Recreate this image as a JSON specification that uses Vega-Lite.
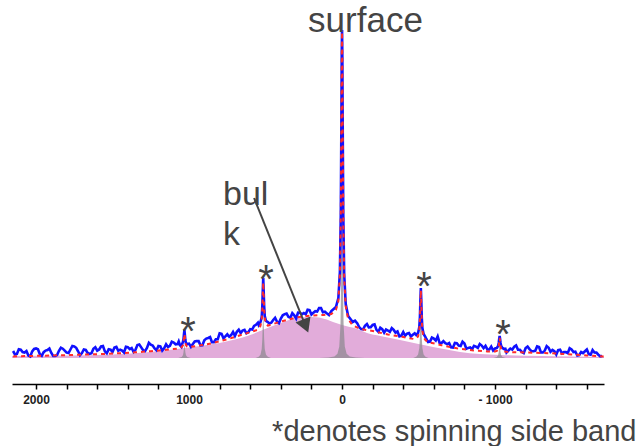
{
  "$schema": "https://vega.github.io/schema/vega-lite/v6.json",
  "width": 592,
  "height": 384,
  "autosize": {"type": "none"},
  "padding": {"left": 12, "right": 36, "top": 0, "bottom": 62},
  "background": "white",
  "config": {"view": {"stroke": null}},
  "datasets": {
    "bulk": [
      {"x": 2157, "y": 2}, {"x": 1800, "y": 2.5}, {"x": 1500, "y": 3.5}, {"x": 1255, "y": 6}, {"x": 1100, "y": 8.5},
      {"x": 928, "y": 12}, {"x": 800, "y": 15}, {"x": 700, "y": 18.5}, {"x": 600, "y": 23}, {"x": 471, "y": 31},
      {"x": 400, "y": 35}, {"x": 294, "y": 40}, {"x": 200, "y": 41}, {"x": 100, "y": 38.5}, {"x": 59, "y": 36},
      {"x": 0, "y": 33}, {"x": -100, "y": 29}, {"x": -163, "y": 25}, {"x": -250, "y": 22}, {"x": -379, "y": 18},
      {"x": -500, "y": 14}, {"x": -595, "y": 11}, {"x": -700, "y": 8}, {"x": -771, "y": 6}, {"x": -900, "y": 4},
      {"x": -1033, "y": 3}, {"x": -1300, "y": 2}, {"x": -1712, "y": 1}
    ],
    "peaks": [
      {"k": "c", "x": -150, "y": 0}, {"k": "c", "x": -90, "y": 0.5}, {"k": "c", "x": -50, "y": 1.6}, {"k": "c", "x": -30, "y": 4.3},
      {"k": "c", "x": -18, "y": 11.5}, {"k": "c", "x": -10, "y": 34}, {"k": "c", "x": -6, "y": 77}, {"k": "c", "x": -3, "y": 160},
      {"k": "c", "x": -1.5, "y": 220}, {"k": "c", "x": 0, "y": 250}, {"k": "c", "x": 1.5, "y": 220}, {"k": "c", "x": 3, "y": 160},
      {"k": "c", "x": 6, "y": 77}, {"k": "c", "x": 10, "y": 34}, {"k": "c", "x": 18, "y": 11.5}, {"k": "c", "x": 30, "y": 4.3},
      {"k": "c", "x": 50, "y": 1.6}, {"k": "c", "x": 90, "y": 0.5}, {"k": "c", "x": 150, "y": 0},
      {"k": "s1", "x": 465, "y": 0}, {"k": "s1", "x": 485, "y": 1.2}, {"k": "s1", "x": 497, "y": 3.3}, {"k": "s1", "x": 505, "y": 9},
      {"k": "s1", "x": 509, "y": 19}, {"k": "s1", "x": 512, "y": 34}, {"k": "s1", "x": 515, "y": 46}, {"k": "s1", "x": 518, "y": 34},
      {"k": "s1", "x": 521, "y": 19}, {"k": "s1", "x": 525, "y": 9}, {"k": "s1", "x": 533, "y": 3.3}, {"k": "s1", "x": 545, "y": 1.2},
      {"k": "s1", "x": 565, "y": 0},
      {"k": "s2", "x": -465, "y": 0}, {"k": "s2", "x": -485, "y": 1.35}, {"k": "s2", "x": -497, "y": 3.6}, {"k": "s2", "x": -505, "y": 10},
      {"k": "s2", "x": -509, "y": 20.5}, {"k": "s2", "x": -512, "y": 37}, {"k": "s2", "x": -515, "y": 50}, {"k": "s2", "x": -518, "y": 37},
      {"k": "s2", "x": -521, "y": 20.5}, {"k": "s2", "x": -525, "y": 10}, {"k": "s2", "x": -533, "y": 3.6}, {"k": "s2", "x": -545, "y": 1.35},
      {"k": "s2", "x": -565, "y": 0},
      {"k": "s3", "x": 990, "y": 0}, {"k": "s3", "x": 1000, "y": 0.4}, {"k": "s3", "x": 1012, "y": 1}, {"k": "s3", "x": 1020, "y": 2.8},
      {"k": "s3", "x": 1024, "y": 5.7}, {"k": "s3", "x": 1027, "y": 10.3}, {"k": "s3", "x": 1030, "y": 14}, {"k": "s3", "x": 1033, "y": 10.3},
      {"k": "s3", "x": 1036, "y": 5.7}, {"k": "s3", "x": 1040, "y": 2.8}, {"k": "s3", "x": 1048, "y": 1}, {"k": "s3", "x": 1060, "y": 0.4},
      {"k": "s3", "x": 1070, "y": 0},
      {"k": "s4", "x": -990, "y": 0}, {"k": "s4", "x": -1000, "y": 0.4}, {"k": "s4", "x": -1012, "y": 1}, {"k": "s4", "x": -1020, "y": 2.8},
      {"k": "s4", "x": -1024, "y": 5.7}, {"k": "s4", "x": -1027, "y": 10.3}, {"k": "s4", "x": -1030, "y": 14}, {"k": "s4", "x": -1033, "y": 10.3},
      {"k": "s4", "x": -1036, "y": 5.7}, {"k": "s4", "x": -1040, "y": 2.8}, {"k": "s4", "x": -1048, "y": 1}, {"k": "s4", "x": -1060, "y": 0.4},
      {"k": "s4", "x": -1070, "y": 0}
    ],
    "obs": [
      {"x": 2150, "y": 7}, {"x": 2125, "y": 4.1}, {"x": 2100, "y": 8.3}, {"x": 2075, "y": 5.4}, {"x": 2050, "y": 2.5},
      {"x": 2025, "y": 6.6}, {"x": 2000, "y": 9.6}, {"x": 1975, "y": 3.7}, {"x": 1950, "y": 5.8}, {"x": 1925, "y": 7.9},
      {"x": 1900, "y": 5}, {"x": 1875, "y": 2.1}, {"x": 1850, "y": 7.2}, {"x": 1825, "y": 9.3}, {"x": 1800, "y": 5.4},
      {"x": 1775, "y": 8.5}, {"x": 1750, "y": 11.6}, {"x": 1725, "y": 6.7}, {"x": 1700, "y": 4.9}, {"x": 1675, "y": 8},
      {"x": 1650, "y": 4.1}, {"x": 1625, "y": 9.2}, {"x": 1600, "y": 7.4}, {"x": 1575, "y": 11.5}, {"x": 1550, "y": 6.6},
      {"x": 1525, "y": 8.8}, {"x": 1500, "y": 6}, {"x": 1475, "y": 11.1}, {"x": 1450, "y": 8.3}, {"x": 1425, "y": 5.5},
      {"x": 1400, "y": 10.8}, {"x": 1375, "y": 10}, {"x": 1350, "y": 8.2}, {"x": 1325, "y": 13.5}, {"x": 1300, "y": 7.7},
      {"x": 1275, "y": 10}, {"x": 1250, "y": 13.3}, {"x": 1225, "y": 9.6}, {"x": 1200, "y": 12}, {"x": 1175, "y": 7.4},
      {"x": 1150, "y": 13.7}, {"x": 1125, "y": 12.1}, {"x": 1100, "y": 15.5}, {"x": 1075, "y": 13.9}, {"x": 1060, "y": 13},
      {"x": 1050, "y": 11.3}, {"x": 1048, "y": 12.5}, {"x": 1040, "y": 16}, {"x": 1036, "y": 19}, {"x": 1033, "y": 24},
      {"x": 1030, "y": 28}, {"x": 1027, "y": 23}, {"x": 1024, "y": 18}, {"x": 1020, "y": 15}, {"x": 1012, "y": 14},
      {"x": 1000, "y": 14.4}, {"x": 975, "y": 13.9}, {"x": 950, "y": 17}, {"x": 925, "y": 12.7}, {"x": 900, "y": 17.8},
      {"x": 875, "y": 20}, {"x": 850, "y": 15.7}, {"x": 825, "y": 18.7}, {"x": 800, "y": 24.7}, {"x": 775, "y": 19.7},
      {"x": 750, "y": 23.7}, {"x": 725, "y": 22.9}, {"x": 700, "y": 22.1}, {"x": 675, "y": 28.3}, {"x": 650, "y": 27.5},
      {"x": 625, "y": 24.7}, {"x": 600, "y": 28.9}, {"x": 575, "y": 32.1}, {"x": 550, "y": 35.3}, {"x": 545, "y": 33},
      {"x": 533, "y": 36}, {"x": 525, "y": 41}, {"x": 521, "y": 52}, {"x": 518, "y": 67}, {"x": 515, "y": 80},
      {"x": 512, "y": 66}, {"x": 509, "y": 52}, {"x": 505, "y": 42}, {"x": 497, "y": 37}, {"x": 485, "y": 36},
      {"x": 475, "y": 34.6}, {"x": 450, "y": 38}, {"x": 425, "y": 36.3}, {"x": 400, "y": 39.5}, {"x": 375, "y": 43.8},
      {"x": 350, "y": 41}, {"x": 325, "y": 44.8}, {"x": 300, "y": 39.5}, {"x": 275, "y": 45.3}, {"x": 250, "y": 45},
      {"x": 225, "y": 48.3}, {"x": 200, "y": 43.5}, {"x": 175, "y": 46.8}, {"x": 150, "y": 50}, {"x": 125, "y": 45.8},
      {"x": 100, "y": 44.7}, {"x": 70, "y": 47}, {"x": 40, "y": 51}, {"x": 24, "y": 60}, {"x": 14, "y": 86},
      {"x": 8, "y": 146}, {"x": 4, "y": 242}, {"x": 2, "y": 302}, {"x": 0, "y": 328}, {"x": -2, "y": 301},
      {"x": -4, "y": 240}, {"x": -8, "y": 144}, {"x": -14, "y": 84}, {"x": -24, "y": 54}, {"x": -40, "y": 42},
      {"x": -70, "y": 36}, {"x": -100, "y": 34.5}, {"x": -125, "y": 28.9}, {"x": -150, "y": 32.3}, {"x": -175, "y": 30.6},
      {"x": -200, "y": 33}, {"x": -225, "y": 28.1}, {"x": -250, "y": 30.3}, {"x": -275, "y": 25.4}, {"x": -300, "y": 27.5},
      {"x": -325, "y": 29.9}, {"x": -350, "y": 25.3}, {"x": -375, "y": 21.6}, {"x": -400, "y": 26}, {"x": -425, "y": 24.3},
      {"x": -450, "y": 21.5}, {"x": -475, "y": 24.8}, {"x": -485, "y": 23}, {"x": -497, "y": 25}, {"x": -505, "y": 31},
      {"x": -509, "y": 41}, {"x": -512, "y": 57}, {"x": -515, "y": 70}, {"x": -518, "y": 57}, {"x": -521, "y": 41},
      {"x": -525, "y": 30}, {"x": -533, "y": 24}, {"x": -545, "y": 21}, {"x": -550, "y": 19.3}, {"x": -575, "y": 16.4},
      {"x": -600, "y": 19.5}, {"x": -625, "y": 21.6}, {"x": -650, "y": 14.8}, {"x": -675, "y": 14.9}, {"x": -700, "y": 15},
      {"x": -725, "y": 10.4}, {"x": -750, "y": 14.8}, {"x": -775, "y": 12.1}, {"x": -800, "y": 14.5}, {"x": -825, "y": 10.1},
      {"x": -850, "y": 8.8}, {"x": -875, "y": 11.4}, {"x": -900, "y": 14}, {"x": -925, "y": 9.8}, {"x": -950, "y": 8.6},
      {"x": -975, "y": 11.4}, {"x": -1000, "y": 9.5}, {"x": -1012, "y": 10}, {"x": -1020, "y": 12}, {"x": -1024, "y": 15},
      {"x": -1027, "y": 19}, {"x": -1030, "y": 22}, {"x": -1033, "y": 19}, {"x": -1036, "y": 15}, {"x": -1040, "y": 12},
      {"x": -1048, "y": 10}, {"x": -1060, "y": 9}, {"x": -1075, "y": 5.5}, {"x": -1100, "y": 9.4}, {"x": -1125, "y": 11.3},
      {"x": -1150, "y": 8.2}, {"x": -1175, "y": 6.1}, {"x": -1200, "y": 10}, {"x": -1225, "y": 8.9}, {"x": -1250, "y": 6.8},
      {"x": -1275, "y": 11.6}, {"x": -1300, "y": 5.5}, {"x": -1325, "y": 7.4}, {"x": -1350, "y": 10.3}, {"x": -1375, "y": 8.1},
      {"x": -1400, "y": 3.5}, {"x": -1425, "y": 8.3}, {"x": -1450, "y": 6}, {"x": -1475, "y": 4.8}, {"x": -1500, "y": 8.5},
      {"x": -1525, "y": 6.3}, {"x": -1550, "y": 3}, {"x": -1575, "y": 4.8}, {"x": -1600, "y": 8.5}, {"x": -1625, "y": 3.3},
      {"x": -1650, "y": 5.5}, {"x": -1675, "y": 3.3}, {"x": -1700, "y": 2},
      {"x": 2137.5, "y": 3.6}, {"x": 2112.5, "y": 8.7}, {"x": 2087.5, "y": 5.9}, {"x": 2062.5, "y": 7}, {"x": 2037.5, "y": 1.6},
      {"x": 2012.5, "y": 9.1}, {"x": 1987.5, "y": 8.7}, {"x": 1962.5, "y": 2.3}, {"x": 1937.5, "y": 7.4}, {"x": 1912.5, "y": 9.5},
      {"x": 1887.5, "y": 2}, {"x": 1862.5, "y": 3}, {"x": 1837.5, "y": 10.3}, {"x": 1812.5, "y": 7.4}, {"x": 1787.5, "y": 5},
      {"x": 1762.5, "y": 12}, {"x": 1737.5, "y": 10.2}, {"x": 1712.5, "y": 2.8}, {"x": 1687.5, "y": 8.5}, {"x": 1662.5, "y": 5},
      {"x": 1637.5, "y": 4.7}, {"x": 1612.5, "y": 10.8}, {"x": 1587.5, "y": 8.5}, {"x": 1562.5, "y": 12}, {"x": 1537.5, "y": 4.7},
      {"x": 1512.5, "y": 8.4}, {"x": 1487.5, "y": 10.5}, {"x": 1462.5, "y": 7.2}, {"x": 1437.5, "y": 7.4}, {"x": 1412.5, "y": 11.2},
      {"x": 1387.5, "y": 8.9}, {"x": 1362.5, "y": 6.1}, {"x": 1337.5, "y": 12.9}, {"x": 1312.5, "y": 10.6}, {"x": 1287.5, "y": 6.9},
      {"x": 1262.5, "y": 15.2}, {"x": 1237.5, "y": 12.5}, {"x": 1212.5, "y": 7.8}, {"x": 1187.5, "y": 11.7}, {"x": 1162.5, "y": 9.6},
      {"x": 1137.5, "y": 10.9}, {"x": 1112.5, "y": 16.3}, {"x": 1087.5, "y": 13.7}, {"x": 1067.5, "y": 16.5},
      {"x": 987.5, "y": 11.2}, {"x": 962.5, "y": 16.5}, {"x": 937.5, "y": 16.9}, {"x": 912.5, "y": 12.8}, {"x": 887.5, "y": 19.4},
      {"x": 862.5, "y": 20.9}, {"x": 837.5, "y": 15.7}, {"x": 812.5, "y": 18.7}, {"x": 787.5, "y": 24.2}, {"x": 762.5, "y": 21.7},
      {"x": 737.5, "y": 21.3}, {"x": 712.5, "y": 26}, {"x": 687.5, "y": 26.2}, {"x": 662.5, "y": 24.9}, {"x": 637.5, "y": 28.1},
      {"x": 612.5, "y": 25.8}, {"x": 587.5, "y": 28.5}, {"x": 562.5, "y": 33.2},
      {"x": 462.5, "y": 35.3}, {"x": 437.5, "y": 40.2}, {"x": 412.5, "y": 34.9}, {"x": 387.5, "y": 42.7}, {"x": 362.5, "y": 44.4},
      {"x": 337.5, "y": 40.4}, {"x": 312.5, "y": 42.7}, {"x": 287.5, "y": 45.4}, {"x": 262.5, "y": 43.7}, {"x": 237.5, "y": 43.7},
      {"x": 212.5, "y": 47.9}, {"x": 187.5, "y": 45.2}, {"x": 162.5, "y": 46.4}, {"x": 137.5, "y": 50}, {"x": 112.5, "y": 46.3},
      {"x": 85, "y": 42.9},
      {"x": -85, "y": 37.3}, {"x": -112.5, "y": 30.7}, {"x": -137.5, "y": 28.6}, {"x": -162.5, "y": 34}, {"x": -187.5, "y": 30.8},
      {"x": -212.5, "y": 33.6}, {"x": -237.5, "y": 26.2}, {"x": -262.5, "y": 28.9}, {"x": -287.5, "y": 28.5}, {"x": -312.5, "y": 26.2},
      {"x": -337.5, "y": 28.1}, {"x": -362.5, "y": 26.5}, {"x": -387.5, "y": 22.3}, {"x": -412.5, "y": 22.2}, {"x": -437.5, "y": 24.9},
      {"x": -462.5, "y": 23.2},
      {"x": -562.5, "y": 15.9}, {"x": -587.5, "y": 20.5}, {"x": -612.5, "y": 17.5}, {"x": -637.5, "y": 15.2}, {"x": -662.5, "y": 16.9},
      {"x": -687.5, "y": 13.9}, {"x": -712.5, "y": 10.7}, {"x": -737.5, "y": 15.1}, {"x": -762.5, "y": 12.5}, {"x": -787.5, "y": 16.3},
      {"x": -812.5, "y": 9.3}, {"x": -837.5, "y": 10.5}, {"x": -862.5, "y": 12.1}, {"x": -887.5, "y": 10.2}, {"x": -912.5, "y": 12.4},
      {"x": -937.5, "y": 12.2}, {"x": -962.5, "y": 8.5}, {"x": -987.5, "y": 7.5},
      {"x": -1067.5, "y": 9.3}, {"x": -1087.5, "y": 7.5}, {"x": -1112.5, "y": 8.4}, {"x": -1137.5, "y": 12.5}, {"x": -1162.5, "y": 8.2},
      {"x": -1187.5, "y": 5}, {"x": -1212.5, "y": 11.5}, {"x": -1237.5, "y": 6.9}, {"x": -1262.5, "y": 7.2}, {"x": -1287.5, "y": 11},
      {"x": -1312.5, "y": 5.5}, {"x": -1337.5, "y": 11.9}, {"x": -1362.5, "y": 6.2}, {"x": -1387.5, "y": 6.8}, {"x": -1412.5, "y": 7.9},
      {"x": -1437.5, "y": 4.7}, {"x": -1462.5, "y": 5.9}, {"x": -1487.5, "y": 9.7}, {"x": -1512.5, "y": 5.9}, {"x": -1537.5, "y": 2.5},
      {"x": -1562.5, "y": 5.9}, {"x": -1587.5, "y": 6.7}, {"x": -1612.5, "y": 3.9}, {"x": -1637.5, "y": 7.9}, {"x": -1662.5, "y": 5.4},
      {"x": -1687.5, "y": 1.7}
    ],
    "fit": [
      {"x": 2150, "y": 1.5}, {"x": 2050, "y": 2}, {"x": 1950, "y": 2.3}, {"x": 1850, "y": 2.7}, {"x": 1750, "y": 3.1},
      {"x": 1650, "y": 3.6}, {"x": 1550, "y": 4.1}, {"x": 1450, "y": 4.8}, {"x": 1350, "y": 5.7}, {"x": 1250, "y": 6.8},
      {"x": 1150, "y": 8.2}, {"x": 1070, "y": 9.5}, {"x": 1060, "y": 10.1}, {"x": 1048, "y": 10.8}, {"x": 1040, "y": 12.7},
      {"x": 1036, "y": 15.7}, {"x": 1033, "y": 20.3}, {"x": 1030, "y": 24}, {"x": 1027, "y": 20.3}, {"x": 1024, "y": 15.8},
      {"x": 1020, "y": 13}, {"x": 1012, "y": 11.4}, {"x": 1000, "y": 10.9}, {"x": 950, "y": 12}, {"x": 850, "y": 14.7},
      {"x": 750, "y": 18.7}, {"x": 650, "y": 23.5}, {"x": 555, "y": 28}, {"x": 545, "y": 29.7}, {"x": 533, "y": 32.2},
      {"x": 525, "y": 38.4}, {"x": 521, "y": 48.2}, {"x": 518, "y": 63.2}, {"x": 515, "y": 75.5}, {"x": 512, "y": 63.4},
      {"x": 509, "y": 48.7}, {"x": 505, "y": 39.2}, {"x": 497, "y": 33.8}, {"x": 485, "y": 32.4}, {"x": 475, "y": 32.8},
      {"x": 400, "y": 36.5}, {"x": 300, "y": 40.5}, {"x": 200, "y": 42.5}, {"x": 120, "y": 43}, {"x": 70, "y": 44},
      {"x": 40, "y": 48}, {"x": 24, "y": 57}, {"x": 14, "y": 84}, {"x": 8, "y": 143}, {"x": 4, "y": 239},
      {"x": 2, "y": 299}, {"x": 0, "y": 326}, {"x": -2, "y": 297}, {"x": -4, "y": 238}, {"x": -8, "y": 141},
      {"x": -14, "y": 81}, {"x": -24, "y": 51.5}, {"x": -40, "y": 39}, {"x": -70, "y": 32.6}, {"x": -120, "y": 29},
      {"x": -200, "y": 27}, {"x": -300, "y": 23.5}, {"x": -400, "y": 21}, {"x": -470, "y": 19}, {"x": -485, "y": 19.8},
      {"x": -497, "y": 21.6}, {"x": -505, "y": 27.8}, {"x": -509, "y": 38.2}, {"x": -512, "y": 54.4}, {"x": -515, "y": 67.5},
      {"x": -518, "y": 54.2}, {"x": -521, "y": 37.8}, {"x": -525, "y": 27.2}, {"x": -533, "y": 20.6}, {"x": -545, "y": 18},
      {"x": -560, "y": 16}, {"x": -650, "y": 12.8}, {"x": -750, "y": 9.7}, {"x": -850, "y": 7.7}, {"x": -950, "y": 6.6},
      {"x": -1000, "y": 6.6}, {"x": -1012, "y": 7.2}, {"x": -1020, "y": 8.9}, {"x": -1024, "y": 11.8}, {"x": -1027, "y": 16.4},
      {"x": -1030, "y": 20.1}, {"x": -1033, "y": 16.4}, {"x": -1036, "y": 11.8}, {"x": -1040, "y": 8.9}, {"x": -1048, "y": 7},
      {"x": -1060, "y": 6.4}, {"x": -1100, "y": 5.9}, {"x": -1200, "y": 5.5}, {"x": -1300, "y": 5}, {"x": -1400, "y": 4.5},
      {"x": -1500, "y": 3.5}, {"x": -1600, "y": 2.5}, {"x": -1710, "y": 1.5}
    ]
  },
  "encoding": {
    "x": {
      "field": "x", "type": "quantitative",
      "scale": {"domain": [-1712, 2157], "reverse": true, "nice": false, "zero": false},
      "axis": {
        "values": [-1600, -1400, -1200, -1000, -800, -600, -400, -200, 0, 200, 400, 600, 800, 1000, 1200, 1400, 1600, 1800, 2000],
        "labelExpr": "datum.value % 1000 === 0 ? (datum.value < 0 ? '- ' + abs(datum.value) : '' + datum.value) : ''",
        "grid": false, "ticks": true, "tickSize": 5, "tickWidth": 1.5, "tickColor": "#000", "domainColor": "#000", "domainWidth": 1.5,
        "labelFont": "Liberation Sans", "labelFontSize": 12, "labelFontWeight": "bold", "labelColor": "#222", "labelPadding": 5, "labelDx": 2,
        "labelFlush": false, "labelOverlap": false,
        "title": "*denotes spinning side band", "titleFont": "Liberation Sans", "titleFontSize": 29,
        "titleFontWeight": "normal", "titleColor": "#444", "titleAnchor": "end", "titleAlign": "right",
        "titleX": 624, "titleY": 56, "titleBaseline": "alphabetic"
      }
    },
    "y": {"field": "y", "type": "quantitative", "scale": {"domain": [-26, 358], "nice": false, "zero": false}, "axis": null}
  },
  "layer": [
    {
      "data": {"name": "bulk"},
      "mark": {"type": "area", "interpolate": "monotone", "color": "#e2acda", "opacity": 1},
      "encoding": {"y2": {"datum": 0}}
    },
    {
      "data": {"name": "peaks"},
      "mark": {"type": "area", "color": "#8e8a90", "opacity": 0.75},
      "encoding": {"detail": {"field": "k"}, "y2": {"datum": 0}}
    },
    {
      "data": {"name": "obs"},
      "mark": {"type": "line", "color": "#1010ff", "strokeWidth": 2.6}
    },
    {
      "data": {"name": "fit"},
      "mark": {"type": "line", "color": "#ff2a2a", "strokeWidth": 2, "strokeDash": [4, 4]}
    },
    {
      "data": {"values": [{"x": 575, "y": 160, "x2": 238, "y2": 32}]},
      "mark": {"type": "rule", "color": "#444", "strokeWidth": 2},
      "encoding": {"x2": {"field": "x2"}, "y2": {"field": "y2"}}
    },
    {
      "data": {"values": [{"x": 238, "y": 32}]},
      "mark": {"type": "point", "shape": "triangle-up", "angle": 158, "size": 260, "filled": true, "color": "#444", "opacity": 1}
    },
    {
      "data": {"values": [{"x": 497, "y": 65, "t": "*"}, {"x": -536, "y": 58, "t": "*"}, {"x": 1006, "y": 13, "t": "*"}, {"x": -1052, "y": 10, "t": "*"}]},
      "mark": {"type": "text", "font": "Liberation Sans", "fontSize": 40, "color": "#444", "align": "center", "baseline": "alphabetic"},
      "encoding": {"text": {"field": "t"}}
    },
    {
      "data": {"values": [{"x": 778, "y": 153, "t": "bul"}, {"x": 778, "y": 113, "t": "k"}]},
      "mark": {"type": "text", "font": "Liberation Sans", "fontSize": 34, "color": "#444", "align": "left", "baseline": "alphabetic"},
      "encoding": {"text": {"field": "t"}}
    },
    {
      "data": {"values": [{"x": 222, "y": 326, "t": "surface"}]},
      "mark": {"type": "text", "font": "Liberation Sans", "fontSize": 35, "color": "#444", "align": "left", "baseline": "alphabetic"},
      "encoding": {"text": {"field": "t"}}
    }
  ]
}
